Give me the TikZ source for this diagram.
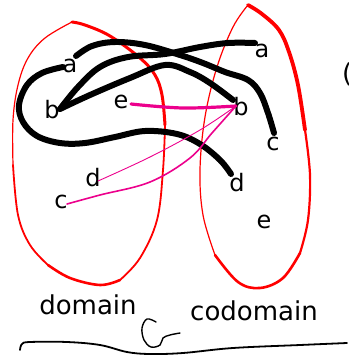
\documentclass[tikz,border=0pt]{standalone}
\usepackage{fontspec}
\setmainfont{DejaVu Sans}
\begin{document}
\begin{tikzpicture}[x=1pt,y=-1pt,
  lbl/.style={inner sep=0pt,font=\fontsize{24}{24}\selectfont},
  captext/.style={inner sep=0pt,font=\fontsize{26}{26}\selectfont},
  blob/.style={draw=red,line cap=round,line join=round},
  map/.style={line width=6pt,line cap=round,line join=round},
  pink/.style={draw=magenta,line cap=round}]
\useasboundingbox (0,0) rectangle (348,356);
% ---- domain blob
\draw[blob,line width=1.2pt] plot[smooth,tension=0.6] coordinates {(72,22) (45,38) (28,58) (18,85) (13,120) (13,165)};
\draw[blob,line width=1.8pt] plot[smooth,tension=0.6] coordinates {(13,165) (18,215) (30,245) (48,265)};
\draw[blob,line width=2.6pt] plot[smooth,tension=0.6] coordinates {(48,265) (70,278) (100,285) (120,280)};
\draw[blob,line width=1.8pt] plot[smooth,tension=0.6] coordinates {(120,280) (140,258) (157,220) (163,170) (165,125)};
\draw[blob,line width=3pt] plot[smooth,tension=0.6] coordinates {(165,125) (162,95) (155,75) (140,58) (110,36) (85,25) (72,22)};
% ---- codomain blob
\draw[blob,line width=1.2pt] plot[smooth,tension=0.6] coordinates {(248,5) (233,27) (217,67) (205,117) (200,170) (203,215) (215,255)};
\draw[blob,line width=2.6pt] plot[smooth,tension=0.6] coordinates {(215,255) (238,282) (260,288) (283,278) (300,253)};
\draw[blob,line width=2.2pt] plot[smooth,tension=0.6] coordinates {(300,253) (308,220) (310,175) (305,130)};
\draw[blob,line width=3.8pt] plot[smooth,tension=0.6] coordinates {(305,130) (298,85) (289,52) (279,30) (262,14) (248,5)};
% ---- labels
\node[lbl] (aL) at (70,66) {a};
\node[lbl] (bL) at (52,110) {b};
\node[lbl] (eL) at (121,102) {e};
\node[lbl] (dL) at (93,178) {d};
\node[lbl] (cL) at (61,202) {c};
\node[lbl] (aR) at (262,51) {a};
\node[lbl] (bR) at (241,107) {b};
\node[lbl] (cR) at (273,144) {c};
\node[lbl] (dR) at (237,183) {d};
\node[lbl] (eR) at (264,222) {e};
\node[captext] (dom) at (88,305) {domain};
\node[captext] (cod) at (254,311) {codomain};
\node[captext,anchor=west] (par) at (342,74) {(};
% ---- connector endpoints
\coordinate (aL1) at (63,67);
\coordinate (aL2) at (76,56);
\coordinate (bL1) at (60,109);
\coordinate (aR1) at (255,43);
\coordinate (bR1) at (233,100);
\coordinate (cR1) at (274,133);
\coordinate (dR1) at (231,174);
\coordinate (eL1) at (131,104);
\coordinate (dL1) at (98,181);
\coordinate (cL1) at (67,204);
\coordinate (bR2) at (236,106);
% ---- black maps
\draw[map] plot[smooth,tension=0.6] coordinates {(aL1) (42,73) (27,85) (19,105) (23,122) (37,136) (60,143) (85,143) (115,137) (145,131) (177,134) (200,144) (220,160) (dR1)};
\draw[map] plot[smooth,tension=0.6] coordinates {(aL2) (92,46) (115,42) (145,45) (180,55) (203,63) (225,72) (248,80) (260,93) (268,113) (cR1)};
\draw[map] plot[smooth,tension=0.6] coordinates {(bL1) (78,87) (100,67) (128,57) (165,54) (200,47) (228,43) (aR1)};
\draw[map] plot[smooth,tension=0.6] coordinates {(bL1) (90,95) (130,78) (165,65) (190,72) (210,83) (bR1)};
% ---- pink maps
\draw[pink,line width=3.2pt] plot[smooth,tension=0.6] coordinates {(eL1) (183,108) (bR2)};
\draw[pink,line width=0.9pt] plot[smooth,tension=0.6] coordinates {(dL1) (150,157) (200,130) (bR2)};
\draw[pink,line width=1.6pt] plot[smooth,tension=0.6] coordinates {(cL1) (100,195) (150,182) (190,158) (212,133) (bR2)};
% ---- bottom scribbles
\coordinate (s1) at (20,350);
\coordinate (s2) at (347,343);
\draw[line width=1.8pt,line cap=round] plot[smooth,tension=0.6] coordinates {(s1) (22,344) (30,342) (67,342) (100,345) (127,352) (150,354) (183,353) (233,348) (300,345) (s2)};
\coordinate (g1) at (156,322);
\coordinate (g2) at (180,333);
\draw[line width=1.4pt,line cap=round] plot[smooth,tension=0.6] coordinates {(g1) (147,319) (142,328) (144,340) (151,347) (160,345) (163,338) (170,335) (g2)};
\end{tikzpicture}
\end{document}
